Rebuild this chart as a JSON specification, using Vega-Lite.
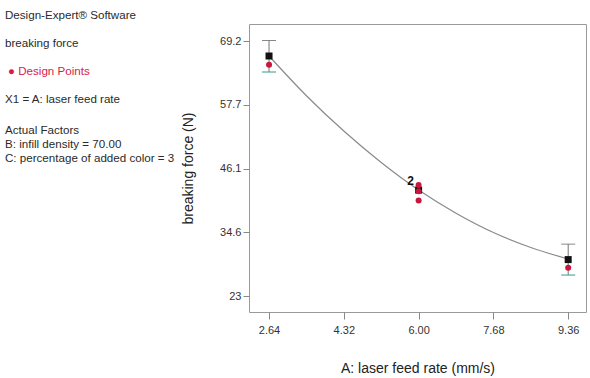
{
  "$schema": "https://vega.github.io/schema/vega-lite/v6.json",
  "padding": {"left": 5, "top": 10, "right": 5, "bottom": 0},
  "background": "white",
  "config": {
    "font": "Liberation Sans",
    "view": {"stroke": null},
    "concat": {"spacing": 6},
    "axis": {
      "grid": false,
      "domain": false,
      "tickColor": "#888",
      "labelFont": "Liberation Sans",
      "titleFont": "Liberation Sans",
      "labelFontSize": 11,
      "titleFontSize": 14,
      "titleFontWeight": "normal",
      "labelColor": "#333",
      "titleColor": "#222"
    }
  },
  "datasets": {
    "notes": [
      {"block": 1, "text": "Design-Expert® Software"},
      {"block": 2, "text": "breaking force"},
      {"block": 3, "text": "●  Design Points"},
      {"block": 4, "text": "X1 = A: laser feed rate"},
      {"block": 5, "text": "Actual Factors\nB: infill density = 70.00\nC: percentage of added color = 3"}
    ],
    "curve": [
      {"x": 2.64, "y": 66.5},
      {"x": 3.48, "y": 59.3},
      {"x": 4.32, "y": 52.9},
      {"x": 5.16, "y": 47.2},
      {"x": 6.0, "y": 42.2},
      {"x": 6.84, "y": 38.0},
      {"x": 7.68, "y": 34.5},
      {"x": 8.52, "y": 31.8},
      {"x": 9.36, "y": 29.7}
    ],
    "errbars": [
      {"x": 2.64, "lo": 63.6, "hi": 69.3},
      {"x": 9.36, "lo": 26.8, "hi": 32.4}
    ],
    "predicted": [
      {"x": 2.64, "y": 66.5},
      {"x": 6.0, "y": 42.2},
      {"x": 9.36, "y": 29.6}
    ],
    "design": [
      {"x": 2.64, "y": 64.9},
      {"x": 6.0, "y": 43.1},
      {"x": 6.0, "y": 42.0},
      {"x": 6.0, "y": 40.3},
      {"x": 9.36, "y": 28.1}
    ],
    "labels": [
      {"x": 6.0, "y": 43.8, "label": "2"}
    ]
  },
  "hconcat": [
    {
      "width": 170,
      "height": 288,
      "view": {"stroke": null},
      "data": {"name": "notes"},
      "encoding": {
        "x": {"datum": 0, "type": "quantitative", "scale": {"domain": [0, 1]}, "axis": null},
        "y": {"field": "block", "type": "quantitative", "scale": {"domain": [1, 11.2857], "reverse": true, "nice": false, "zero": false}, "axis": null},
        "text": {"field": "text"}
      },
      "layer": [
        {
          "transform": [{"filter": "datum.block == 1 || datum.block == 2 || datum.block == 4"}],
          "mark": {"type": "text", "align": "left", "baseline": "top", "dy": -14, "fontSize": 11.6, "color": "#2a2a2a"}
        },
        {
          "transform": [{"filter": "datum.block == 3"}],
          "mark": {"type": "text", "align": "left", "baseline": "top", "dy": -14, "dx": 3, "fontSize": 11.6, "color": "#d81b4a"}
        },
        {
          "transform": [{"filter": "datum.block == 5"}],
          "mark": {"type": "text", "align": "left", "baseline": "top", "dy": -11, "fontSize": 11.6, "lineHeight": 14, "lineBreak": "\n", "color": "#2a2a2a"}
        }
      ]
    },
    {
      "width": 337,
      "height": 288,
      "view": {"stroke": "#999", "strokeWidth": 1},
      "layer": [
        {
          "data": {"name": "curve"},
          "mark": {"type": "line", "color": "#8a8a8a", "strokeWidth": 1.2, "interpolate": "monotone"},
          "encoding": {
            "x": {"field": "x", "type": "quantitative", "title": "A: laser feed rate (mm/s)",
              "scale": {"domain": [2.19, 9.76], "nice": false, "zero": false},
              "axis": {"values": [2.64, 4.32, 6.0, 7.68, 9.36], "format": ".2f", "tickSize": 7, "labelPadding": 5, "titlePadding": 26}},
            "y": {"field": "y", "type": "quantitative", "title": "breaking force (N)",
              "scale": {"domain": [20.1, 72.3], "nice": false, "zero": false},
              "axis": {"values": [23, 34.6, 46.1, 57.7, 69.2], "format": ".1~f", "tickSize": 6, "labelPadding": 2, "titlePadding": 24}}
          }
        },
        {
          "data": {"name": "errbars"},
          "mark": {"type": "rule", "color": "#777", "strokeWidth": 1},
          "encoding": {
            "x": {"field": "x", "type": "quantitative", "title": "A: laser feed rate (mm/s)"},
            "y": {"field": "lo", "type": "quantitative", "title": "breaking force (N)"},
            "y2": {"field": "hi"}
          }
        },
        {
          "data": {"name": "errbars"},
          "mark": {"type": "tick", "orient": "horizontal", "color": "#555", "size": 14, "thickness": 1},
          "encoding": {
            "x": {"field": "x", "type": "quantitative", "title": "A: laser feed rate (mm/s)"},
            "y": {"field": "hi", "type": "quantitative", "title": "breaking force (N)"}
          }
        },
        {
          "data": {"name": "errbars"},
          "mark": {"type": "tick", "orient": "horizontal", "color": "#3aa08c", "size": 14, "thickness": 1.5},
          "encoding": {
            "x": {"field": "x", "type": "quantitative", "title": "A: laser feed rate (mm/s)"},
            "y": {"field": "lo", "type": "quantitative", "title": "breaking force (N)"}
          }
        },
        {
          "data": {"name": "predicted"},
          "mark": {"type": "square", "filled": true, "color": "#111", "size": 49, "opacity": 1},
          "encoding": {
            "x": {"field": "x", "type": "quantitative", "title": "A: laser feed rate (mm/s)"},
            "y": {"field": "y", "type": "quantitative", "title": "breaking force (N)"}
          }
        },
        {
          "data": {"name": "design"},
          "mark": {"type": "circle", "color": "#c8163f", "size": 36, "opacity": 1},
          "encoding": {
            "x": {"field": "x", "type": "quantitative", "title": "A: laser feed rate (mm/s)"},
            "y": {"field": "y", "type": "quantitative", "title": "breaking force (N)"}
          }
        },
        {
          "data": {"name": "labels"},
          "mark": {"type": "text", "dx": -8, "fontSize": 12, "fontWeight": "bold", "color": "#111"},
          "encoding": {
            "x": {"field": "x", "type": "quantitative", "title": "A: laser feed rate (mm/s)"},
            "y": {"field": "y", "type": "quantitative", "title": "breaking force (N)"},
            "text": {"field": "label"}
          }
        }
      ]
    }
  ]
}
